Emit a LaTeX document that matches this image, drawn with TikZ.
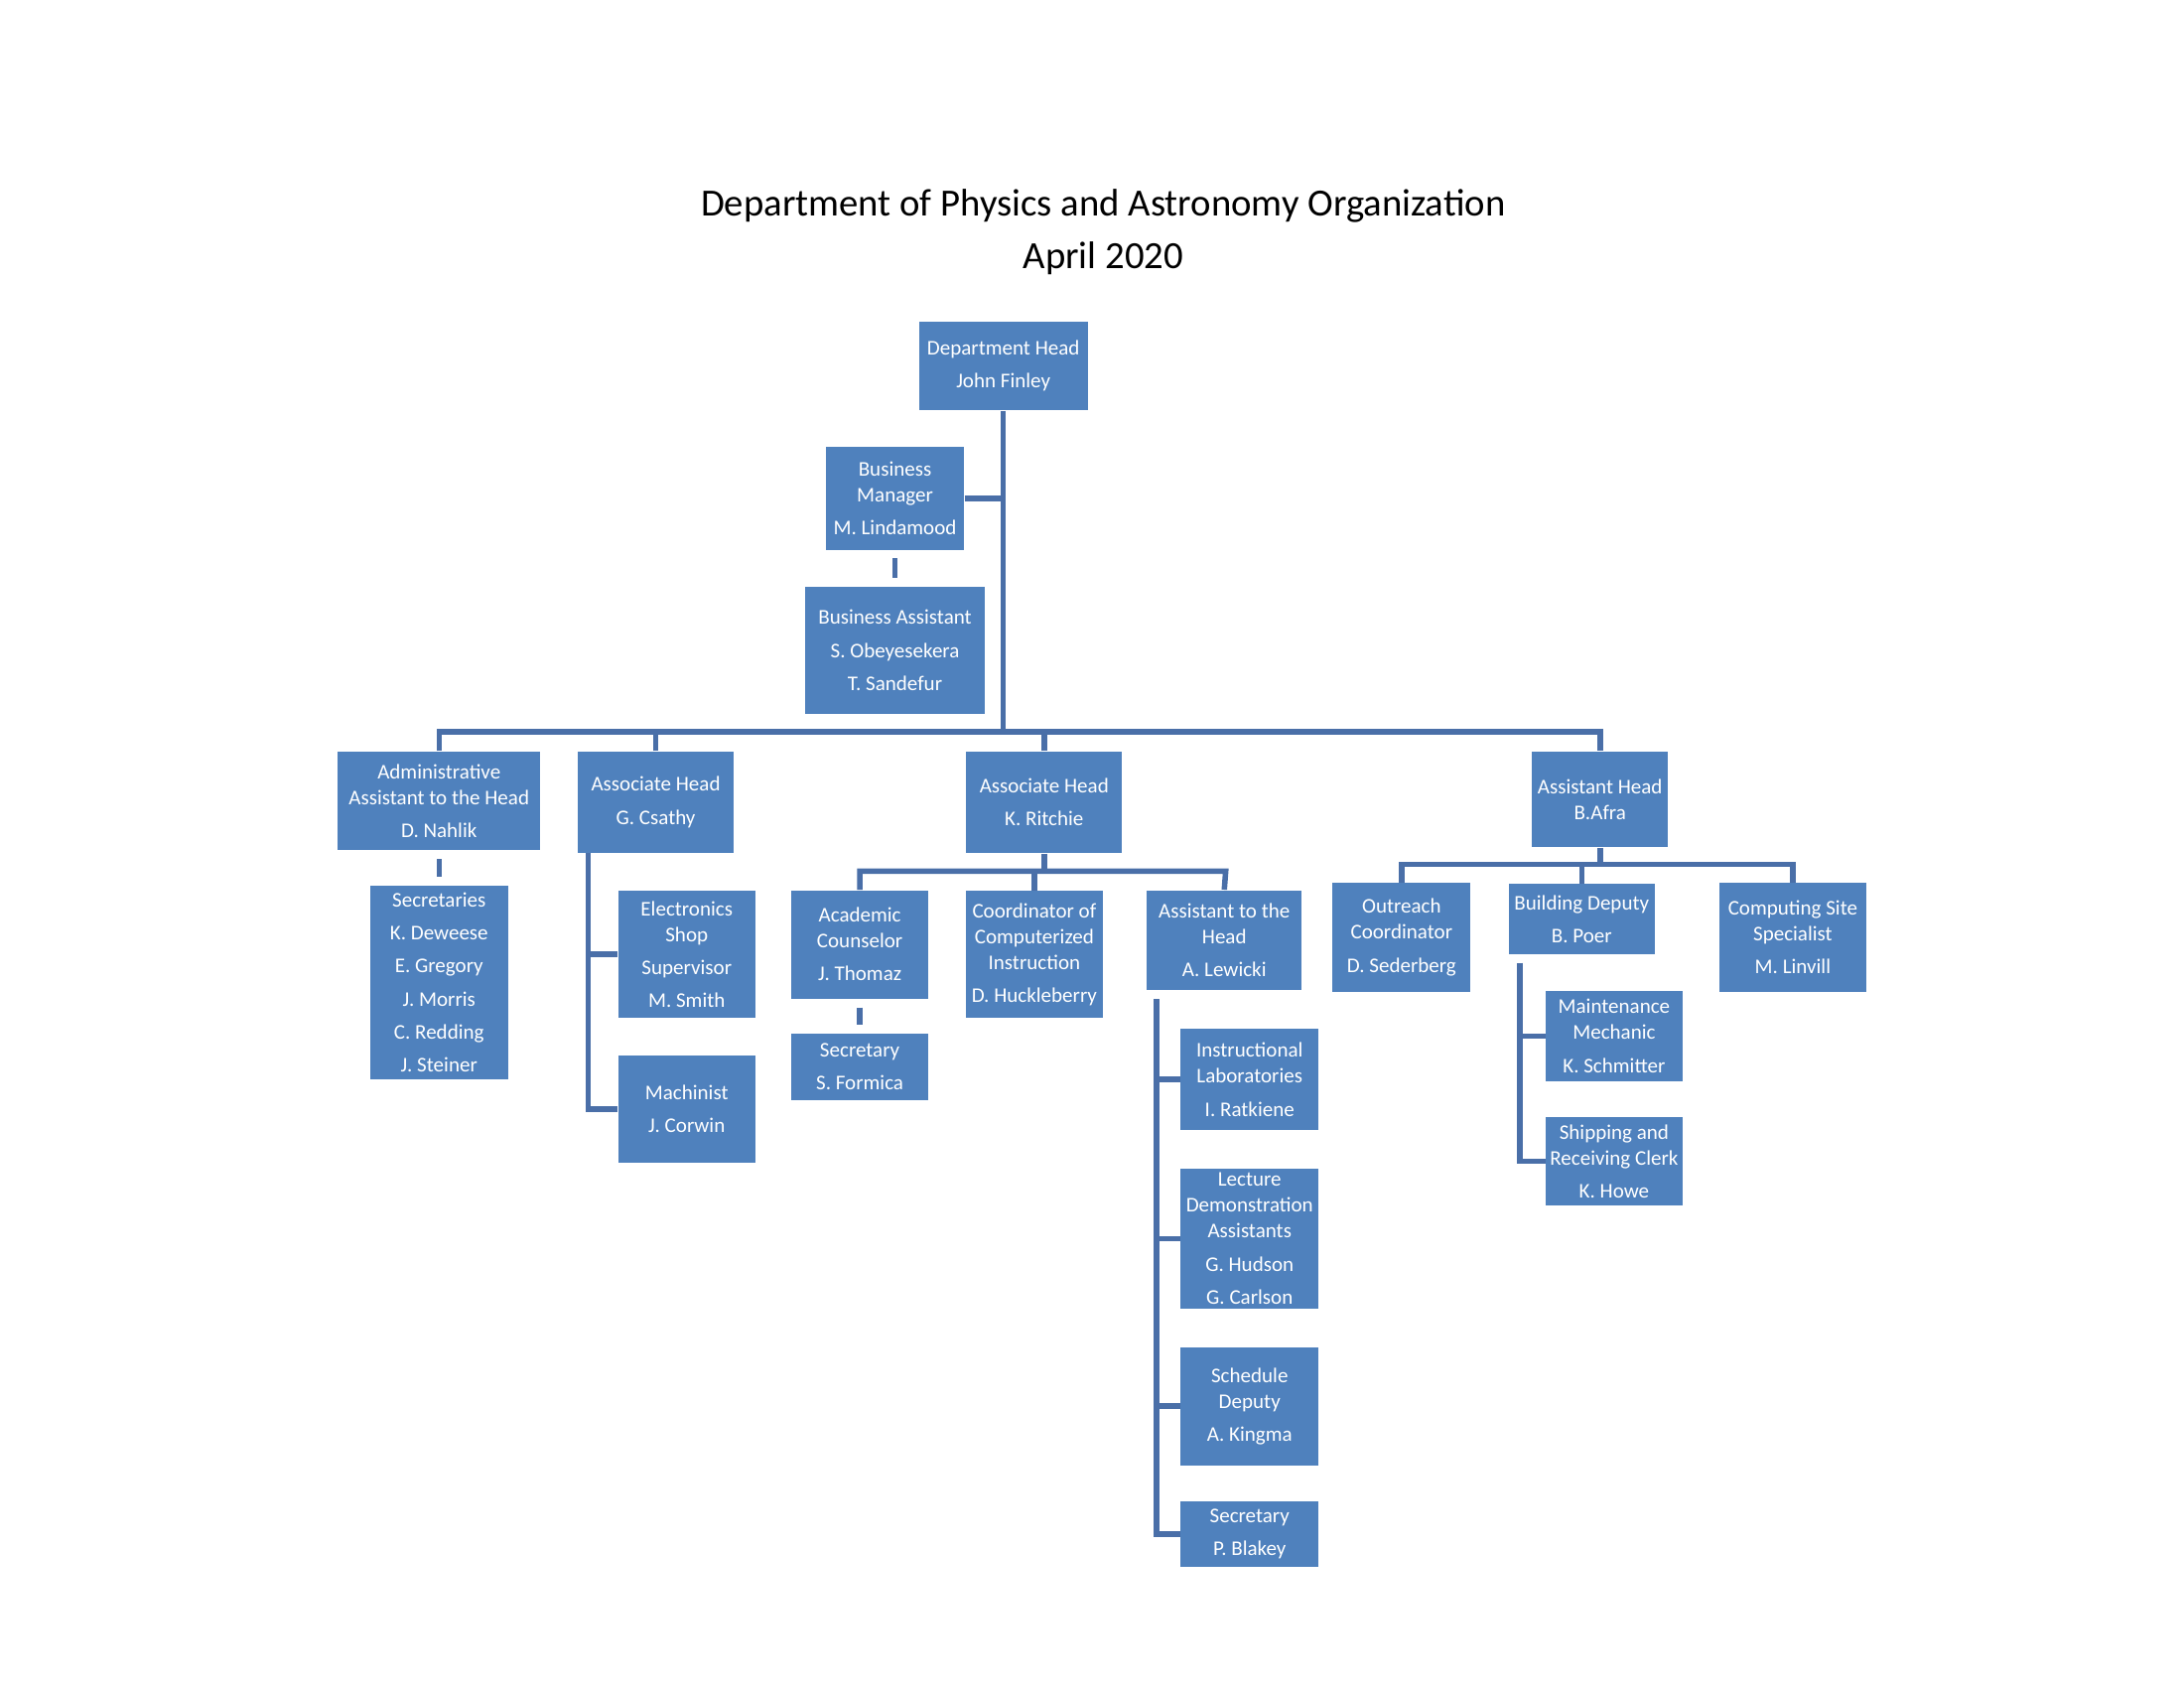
\documentclass[tikz,border=0pt]{standalone}
\usepackage{fontspec}
\setmainfont{Carlito}
\usetikzlibrary{positioning,calc}
\definecolor{boxblue}{HTML}{4F81BD}
\definecolor{lineblue}{HTML}{4A6FA8}
\tikzset{
  box/.style 2 args={fill=boxblue, text=white, align=center, inner sep=0pt,
    minimum width=#1*0.018cm, minimum height=#2*0.018cm,
    font=\fontsize{7.6}{9.4}\selectfont},
  link/.style={draw=lineblue, line width=2pt},
  gap/.style={link, shorten <=3pt, shorten >=3pt}
}
\newcommand{\nl}{\\[2.6pt]}
\begin{document}
\begin{tikzpicture}[x=0.018cm, y=-0.018cm]
  \useasboundingbox (0,0) rectangle (1552,1200);
  %title
  \node[font=\fontsize{14}{19}\selectfont, align=center] (title) at (784,165)
    {Department of Physics and Astronomy Organization\\April 2020};
  %top of the tree
  \node[box={120}{63}] (head) at (713,260) {Department Head\nl John Finley};
  \node[box={98}{73}] (bm) at (636,354) {Business\\Manager\nl M. Lindamood};
  \node[box={128}{90}] (ba) at (636,462) {Business Assistant\nl S. Obeyesekera\nl T. Sandefur};
  %second row
  \node[box={144}{70}] (admin) at (312,569) {Administrative\\Assistant to the Head\nl D. Nahlik};
  \node[box={111}{72}] (csathy) at (466,570) {Associate Head\nl G. Csathy};
  \node[box={111}{72}] (ritchie) at (742,570) {Associate Head\nl K. Ritchie};
  \node[box={97}{68}] (afra) at (1137,568) {Assistant Head\\B.Afra};
  %under the administrative assistant
  \node[box={98}{137}] (secs) at (312,698)
    {Secretaries\nl K. Deweese\nl E. Gregory\nl J. Morris\nl C. Redding\nl J. Steiner};
  %under G. Csathy
  \node[box={97}{90}] (elec) at (488,678) {Electronics\\Shop\nl Supervisor\nl M. Smith};
  \node[box={97}{76}] (mach) at (488,788) {Machinist\nl J. Corwin};
  %under K. Ritchie
  \node[box={97}{77}] (acad) at (611,671) {Academic\\Counselor\nl J. Thomaz};
  \node[box={97}{47}] (secsf) at (611,758) {Secretary\nl S. Formica};
  \node[box={97}{90}] (coord) at (735,678) {Coordinator of\\Computerized\\Instruction\nl D. Huckleberry};
  \node[box={110}{71}] (asst) at (870,668) {Assistant to the\\Head\nl A. Lewicki};
  \node[box={98}{72}] (instr) at (888,767) {Instructional\\Laboratories\nl I. Ratkiene};
  \node[box={98}{100}] (lect) at (888,880) {Lecture\\Demonstration\\Assistants\nl G. Hudson\nl G. Carlson};
  \node[box={98}{84}] (sched) at (888,999) {Schedule\\Deputy\nl A. Kingma};
  \node[box={98}{47}] (secpb) at (888,1090) {Secretary\nl P. Blakey};
  %under B.Afra
  \node[box={98}{77}] (outr) at (996,666) {Outreach\\Coordinator\nl D. Sederberg};
  \node[box={104}{50}] (build) at (1124,653) {Building Deputy\nl B. Poer};
  \node[box={105}{77}] (comp) at (1274,666) {Computing Site\\Specialist\nl M. Linvill};
  \node[box={97}{64}] (maint) at (1147,736) {Maintenance\\Mechanic\nl K. Schmitter};
  \node[box={97}{63}] (ship) at (1147,825) {Shipping and\\Receiving Clerk\nl K. Howe};
  %connectors
  \draw[link] (head.south) -- (713,520);
  \draw[link] (bm.east) -- (713,354);
  \draw[gap] (bm.south) -- (ba.north);
  \draw[link] (admin.north) -- (312,520) -- (1137,520) -- (afra.north);
  \draw[link] (csathy.north) -- (466,520);
  \draw[link] (ritchie.north) -- (742,520);
  \draw[gap] (admin.south) -- (secs.north);
  \draw[link] (418,606) -- (418,788) -- (mach.west);
  \draw[link] (418,678) -- (elec.west);
  \draw[link] (ritchie.south) -- (742,619);
  \draw[link] (acad.north) -- (611,619) -- (871,619) -- (asst.north);
  \draw[link] (coord.north) -- (735,619);
  \draw[gap] (acad.south) -- (secsf.north);
  \draw[link] (822,710) -- (822,1090) -- (secpb.west);
  \foreach \n in {instr,lect,sched}
    \draw[link] (822,0 |- \n.west) -- (\n.west);
  \draw[link] (afra.south) -- (1137,614);
  \draw[link] (outr.north) -- (996,614) -- (1274,614) -- (comp.north);
  \draw[link] (build.north) -- (1124,614);
  \draw[link] (1080,684) -- (1080,825) -- (ship.west);
  \draw[link] (1080,736) -- (maint.west);
\end{tikzpicture}
\end{document}
